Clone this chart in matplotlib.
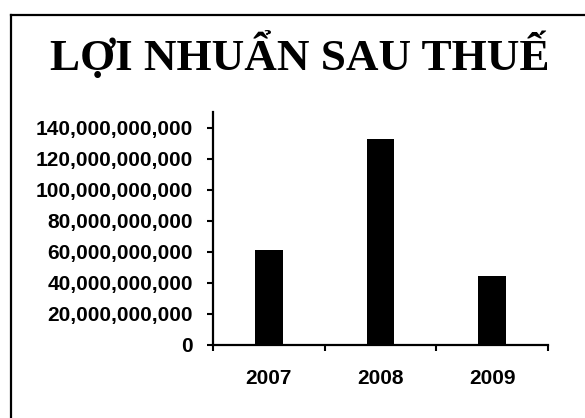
import matplotlib
matplotlib.use("Agg")
import matplotlib.pyplot as plt
import numpy as np
from matplotlib.lines import Line2D
from matplotlib.ticker import FuncFormatter, FixedLocator

title = "LỢI NHUẨN SAU THUẾ"
years = ["2007", "2008", "2009"]
profit = [61_300_000_000, 132_300_000_000, 44_500_000_000]
y_ticks = [0, 20e9, 40e9, 60e9, 80e9, 100e9, 120e9, 140e9]

W, H = 585, 418
fig = plt.figure(figsize=(W / 100, H / 100), dpi=100)
fig.patch.set_facecolor("white")

# frame (top and left edges visible)
fig.add_artist(Line2D([11 / W, 1.0], [1 - 15 / H, 1 - 15 / H], color="black", lw=1.6,
                      transform=fig.transFigure))
fig.add_artist(Line2D([11 / W, 11 / W], [0, 1 - 15 / H], color="black", lw=1.6,
                      transform=fig.transFigure))

fig.text(300 / W, 1 - 70 / H, title, ha="center", va="baseline",
         fontsize=32.5, fontweight="bold", family="Liberation Serif")

ax = fig.add_axes([213 / W, (H - 345) / H, 335 / W, 233 / H])
x = np.arange(len(years)) + 0.5
ax.bar(x, profit, width=0.25, color="black")
ax.set_xlim(0, len(years))
ax.set_ylim(0, 150e9)
ax.set_yticks(y_ticks)
ax.yaxis.set_major_formatter(FuncFormatter(lambda v, p: f"{int(v):,}"))

ax.xaxis.set_major_locator(FixedLocator(np.arange(len(years) + 1)))
ax.xaxis.set_minor_locator(FixedLocator(x))
ax.set_xticklabels([], minor=False)
ax.set_xticklabels(years, minor=True)
ax.tick_params(axis="x", which="major", length=4.5, width=1.5, direction="out")
ax.tick_params(axis="x", which="minor", length=0, pad=17)
ax.tick_params(axis="y", length=4.5, width=1.5, direction="out", pad=10)

for lab in ax.get_yticklabels() + ax.get_xticklabels(minor=True):
    lab.set_fontfamily("Liberation Sans")
    lab.set_fontweight("bold")
    lab.set_fontsize(15)

for s in ["top", "right"]:
    ax.spines[s].set_visible(False)
for s in ["left", "bottom"]:
    ax.spines[s].set_linewidth(1.6)

fig.savefig("out.png", dpi=100, facecolor="white")
